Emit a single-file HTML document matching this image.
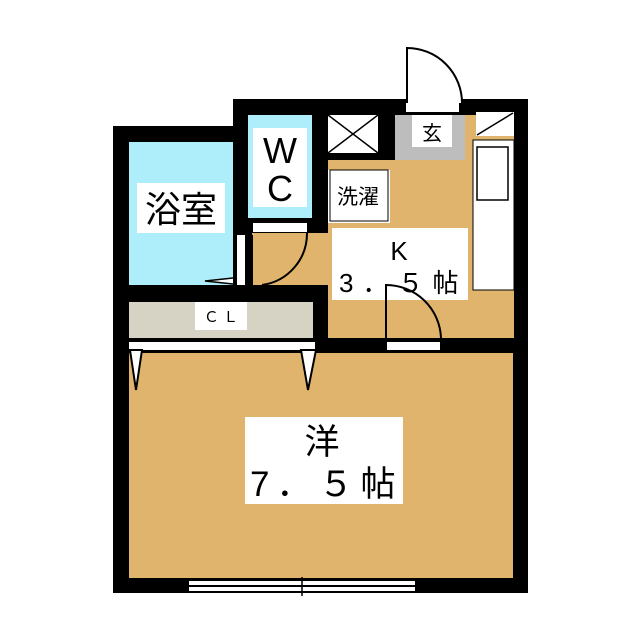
<!DOCTYPE html>
<html><head><meta charset="utf-8"><style>
html,body{margin:0;padding:0;background:#fff;}
svg{display:block;}
text{font-family:"Liberation Sans","Noto Sans CJK JP",sans-serif;fill:#000;}
</style></head><body>
<svg width="640" height="640" viewBox="0 0 640 640">
<rect width="640" height="640" fill="#fff"/>
<rect x="113" y="126" width="135" height="467" fill="#000"/>
<rect x="233" y="99" width="295" height="494" fill="#000"/>
<rect x="129" y="142" width="104" height="143" fill="#aeeefa"/>
<rect x="248" y="115" width="64" height="103" fill="#aeeefa"/>
<rect x="253" y="223" width="54" height="9" fill="#fff"/>
<rect x="328" y="115" width="50" height="38" fill="#fff"/>
<path d="M328 115L378 153M378 115L328 153" stroke="#000" stroke-width="1.5"/>
<rect x="395" y="115" width="119" height="223" fill="#e0b46c"/>
<rect x="328" y="160" width="186" height="178" fill="#e0b46c"/>
<rect x="252" y="233" width="76" height="52" fill="#e0b46c"/>
<rect x="395" y="115" width="70" height="45" fill="#bdbdbd"/>
<rect x="412" y="115" width="40" height="32" fill="#fff"/>
<text x="432" y="140" font-size="20" text-anchor="middle">玄</text>
<rect x="328" y="170" width="62" height="53" fill="#fff"/>
<rect x="330" y="170" width="58" height="51" fill="none" stroke="#000" stroke-width="1"/>
<text x="358" y="204" font-size="21" text-anchor="middle">洗濯</text>
<rect x="476" y="112" width="38" height="24" fill="#fff"/>
<path d="M477 135L513 113" stroke="#000" stroke-width="1.5"/>
<rect x="473" y="140" width="41" height="150" fill="#fff" stroke="#000" stroke-width="1"/>
<rect x="477" y="147" width="31" height="53" fill="#fff" stroke="#000" stroke-width="1.5"/>
<rect x="332" y="228" width="136" height="72" fill="#fff"/>
<text x="399" y="260" font-size="26" text-anchor="middle">K</text>
<text x="339" y="292" font-size="26" letter-spacing="9">3．５帖</text>
<rect x="387" y="342" width="53" height="8" fill="#fff"/>
<path d="M386 338V285A55 55 0 0 1 441 338" fill="none" stroke="#000" stroke-width="2"/>
<rect x="406" y="103" width="53" height="9" fill="#fff"/>
<path d="M407 103V48A55 55 0 0 1 462 103" fill="#fff" stroke="#000" stroke-width="2"/>
<rect x="237" y="235" width="8" height="50" fill="#fff"/>
<path d="M252 235V285M307 233A52 52 0 0 1 262 285" fill="none" stroke="#000" stroke-width="2"/>
<path d="M233 278L205 281L233 284" fill="#fff" stroke="#000" stroke-width="1.5"/>
<rect x="137" y="183" width="88" height="50" fill="#fff"/>
<text x="181" y="222" font-size="36" text-anchor="middle">浴室</text>
<rect x="253" y="128" width="54" height="79" fill="#fff"/>
<text x="280" y="163" font-size="36" text-anchor="middle">W</text>
<text x="280" y="201" font-size="36" text-anchor="middle">C</text>
<rect x="129" y="302" width="184" height="36" fill="#d6d3c5"/>
<rect x="195" y="302" width="52" height="28" fill="#fff"/>
<text x="221" y="322" font-size="15" text-anchor="middle">Ｃ Ｌ</text>
<rect x="129" y="342" width="186" height="8" fill="#fff"/>
<rect x="129" y="353" width="384" height="225" fill="#e0b46c"/>
<path d="M130 350L142 350L136 390Z" fill="#fff" stroke="#000" stroke-width="2"/>
<path d="M301 350L316 350L308 390Z" fill="#fff" stroke="#000" stroke-width="2"/>
<rect x="245" y="417" width="158" height="87" fill="#fff"/>
<text x="322" y="454" font-size="35" text-anchor="middle">洋</text>
<text x="250" y="496" font-size="35" letter-spacing="7">7．５帖</text>
<rect x="189" y="581" width="226" height="4" fill="#fff"/>
<rect x="189" y="587" width="226" height="4" fill="#fff"/>
<path d="M302 577V596" stroke="#000" stroke-width="1.5"/>
</svg>
</body></html>
